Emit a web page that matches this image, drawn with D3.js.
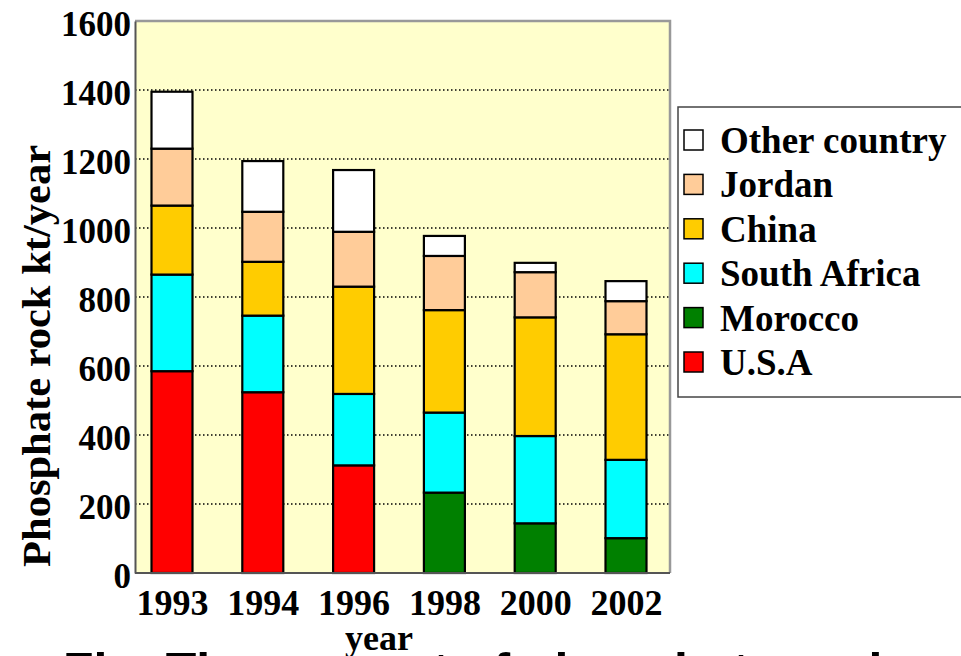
<!DOCTYPE html>
<html>
<head>
<meta charset="utf-8">
<script src="https://cdn.jsdelivr.net/npm/d3@7/dist/d3.min.js"></script>
<style>
  html, body { margin: 0; padding: 0; background: #fff; overflow: hidden; }
  svg { display: block; }
</style>
</head>
<body>
<svg id="chart" width="961" height="656"></svg>
<script>
// Phosphate rock output by producing country, kt/year
const years = ["1993", "1994", "1996", "1998", "2000", "2002"];
const countries = ["U.S.A", "Morocco", "South Africa", "China", "Jordan", "Other country"];
const usa         = [585, 524, 312,   0,   0,   0];
const morocco     = [  0,   0,   0, 233, 144, 101];
const southAfrica = [280, 222, 207, 232, 253, 227];
const china       = [200, 156, 311, 297, 344, 364];
const jordan      = [165, 145, 159, 157, 131,  96];
const other       = [165, 147, 179,  58,  27,  58];
const yTicks = [0, 200, 400, 600, 800, 1000, 1200, 1400, 1600];
const colors = ["#ff0000", "#008000", "#00ffff", "#ffcc00", "#ffcc99", "#ffffff"];

const series = [usa, morocco, southAfrica, china, jordan, other];
const rows = years.map((y, i) => {
  const r = { year: y };
  countries.forEach((c, k) => { r[c] = series[k][i]; });
  return r;
});

const svg = d3.select("#chart");
const serif = "'Liberation Serif', 'Times New Roman', serif";
const sans = "'Liberation Sans', Arial, sans-serif";

const plot = { left: 135, right: 670, top: 21, bottom: 573 };

const x = d3.scalePoint().domain(years).range([172, 626]);
const y = d3.scaleLinear().domain([0, 1600]).range([plot.bottom, plot.top]);
const barW = 41;

// plot background
svg.append("rect")
  .attr("x", plot.left).attr("y", plot.top)
  .attr("width", plot.right - plot.left).attr("height", plot.bottom - plot.top)
  .attr("fill", "#ffffcc");

// dotted gridlines
svg.append("g")
  .selectAll("line")
  .data(yTicks.filter(t => t > 0 && t < 1600))
  .join("line")
  .attr("x1", plot.left).attr("x2", plot.right)
  .attr("y1", d => y(d)).attr("y2", d => y(d))
  .attr("stroke", "#000").attr("stroke-width", 1.4)
  .attr("stroke-dasharray", "1.5,2.5");

// frame: light top/right, darker left/bottom
svg.append("path")
  .attr("d", `M${plot.left},${plot.top}H${plot.right}V${plot.bottom}`)
  .attr("fill", "none").attr("stroke", "#999").attr("stroke-width", 2.5);

// stacked bars
const stack = d3.stack().keys(countries);
const layers = stack(rows);
svg.append("g")
  .selectAll("g")
  .data(layers)
  .join("g")
  .attr("fill", (d, i) => colors[i])
  .selectAll("rect")
  .data(d => d.filter(s => s[1] - s[0] > 0))
  .join("rect")
  .attr("x", d => x(d.data.year) - barW / 2)
  .attr("y", d => y(d[1]))
  .attr("width", barW)
  .attr("height", d => y(d[0]) - y(d[1]))
  .attr("stroke", "#000").attr("stroke-width", 2.2);

// y axis
const yAxis = svg.append("g")
  .attr("transform", `translate(${plot.left},0)`)
  .call(d3.axisLeft(y).tickValues(yTicks).tickSize(0).tickPadding(4).tickFormat(d3.format("d")));
yAxis.select(".domain").attr("stroke", "#555").attr("stroke-width", 2);
yAxis.selectAll("text")
  .attr("font-family", serif).attr("font-weight", "bold").attr("font-size", 35)
  .attr("fill", "#000").attr("dy", "0.40em");

// x axis
const xAxis = svg.append("g")
  .attr("transform", `translate(0,${plot.bottom})`)
  .call(d3.axisBottom(x).tickSize(0).tickPadding(0));
xAxis.select(".domain").attr("d", `M${plot.left},0H${plot.right}`)
  .attr("stroke", "#555").attr("stroke-width", 2);
xAxis.selectAll("text")
  .attr("font-family", serif).attr("font-weight", "bold").attr("font-size", 36)
  .attr("fill", "#000").attr("dy", "1.18em");

// caption beneath the chart, running off the bottom edge
svg.append("text")
  .attr("x", 63).attr("y", 688)
  .attr("font-family", sans).attr("font-weight", "bold").attr("font-size", 50)
  .attr("fill", "#000")
  .text("Fig. The amount of phosphate rock production");

// axis titles
svg.append("text")
  .attr("x", 379).attr("y", 650)
  .attr("text-anchor", "middle")
  .attr("font-family", serif).attr("font-weight", "bold").attr("font-size", 36)
  .text("year");

svg.append("text")
  .attr("transform", "translate(50,356) rotate(-90)")
  .attr("text-anchor", "middle")
  .attr("font-family", serif).attr("font-weight", "bold").attr("font-size", 41)
  .attr("textLength", 422).attr("lengthAdjust", "spacingAndGlyphs")
  .text("Phosphate rock kt/year");

// legend, top entry is the top of the stack
const legend = svg.append("g");
legend.append("rect")
  .attr("x", 678).attr("y", 107).attr("width", 300).attr("height", 290)
  .attr("fill", "#fff").attr("stroke", "#444").attr("stroke-width", 1.5);

const legendItems = countries.map((c, i) => ({ name: c, color: colors[i] })).reverse();
const item = legend.selectAll("g.item")
  .data(legendItems)
  .join("g").attr("class", "item")
  .attr("transform", (d, i) => `translate(0,${153 + i * 44.4})`);
item.append("rect")
  .attr("x", 684).attr("y", -23).attr("width", 19).attr("height", 20)
  .attr("fill", d => d.color).attr("stroke", "#000").attr("stroke-width", 1.5);
item.append("text")
  .attr("x", 720).attr("y", 0)
  .attr("font-family", serif).attr("font-weight", "bold").attr("font-size", 37)
  .attr("fill", "#000")
  .text(d => d.name);
</script>
</body>
</html>
